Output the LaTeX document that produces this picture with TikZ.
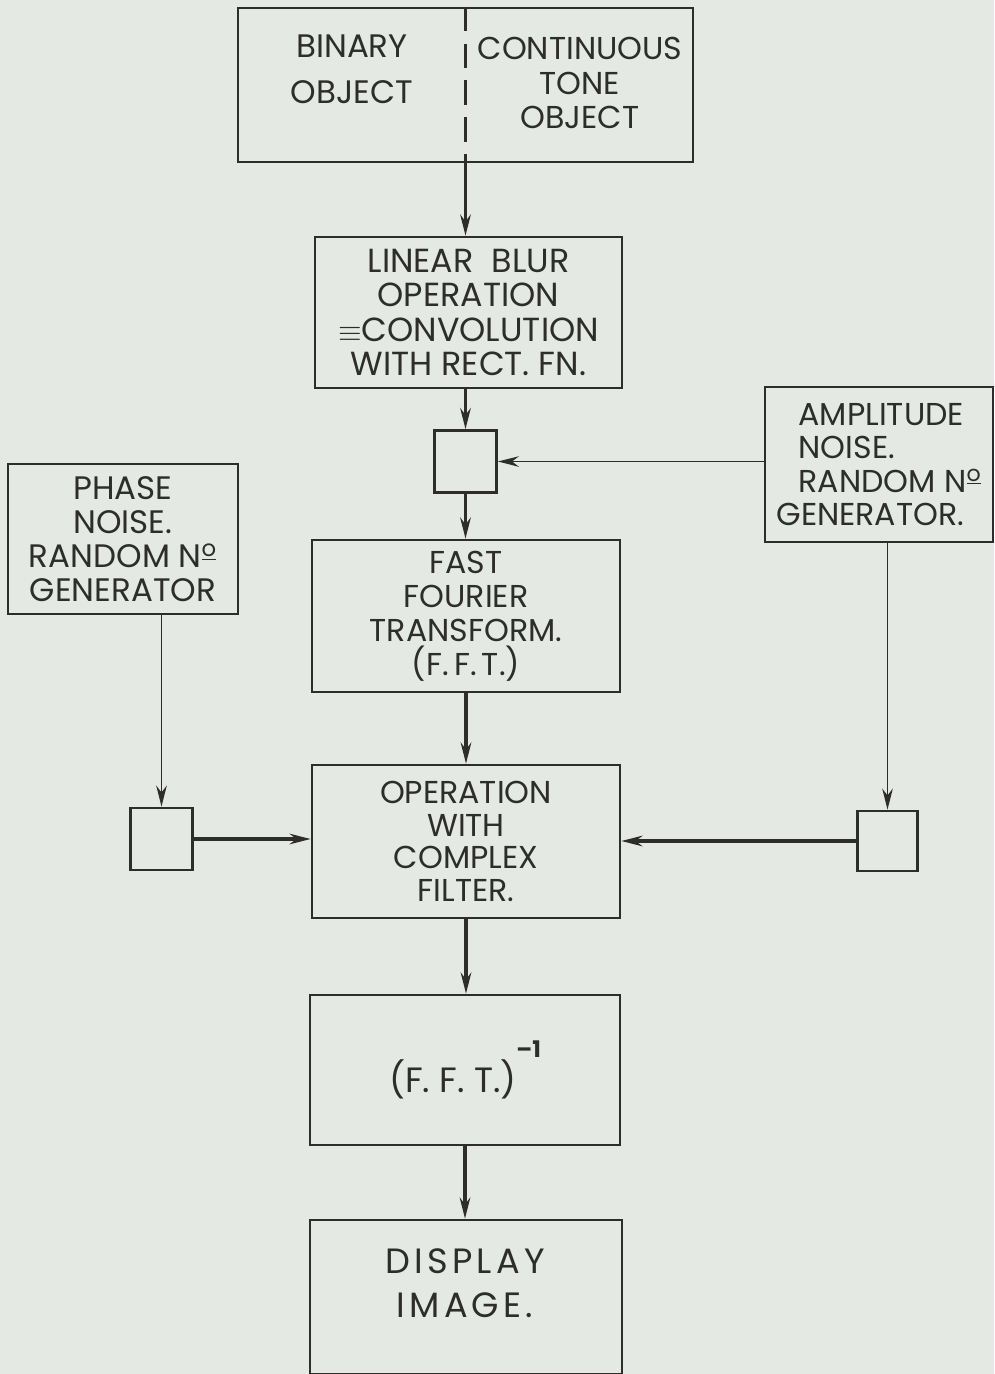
\documentclass[tikz,border=0pt]{standalone}
\usepackage{fontspec}
\setmainfont{Poppins}
\usetikzlibrary{arrows.meta}
\definecolor{paper}{RGB}{228,233,227}
\definecolor{ink}{RGB}{45,45,42}
\newcommand{\fs}[2]{\fontsize{#1}{#2}\selectfont}
\begin{document}
\begin{tikzpicture}[
  every node/.style={font=\fs{18}{19}, text=ink, align=center},
  block/.style={draw=ink, line width=1.5pt, inner sep=0pt},
  mixbox/.style={draw=ink, line width=1.5pt, minimum size=1.24cm, inner sep=0pt},
  flow/.style={draw=ink, line width=1.8pt, -{Stealth[length=12pt, width=6pt]}},
  feed/.style={draw=ink, line width=0.9pt, -{Stealth[length=12pt, width=6pt]}}]
  \fill[paper] (0,0) rectangle (19.88,-27.48);
  \useasboundingbox (0,0) rectangle (19.88,-27.48);
  \node[block, minimum width=9.1cm, minimum height=3.08cm] (object) at (9.31,-1.70) {};
  \node[font=\fs{18.5}{26}] (binary) at (7.04,-1.38) {BINARY\\OBJECT};
  \node[font=\fs{18}{19.5}] (tone) at (11.6,-1.66) {CONTINUOUS\\TONE\\OBJECT};
  \draw[ink, line width=1.2pt, dash pattern=on 14pt off 7pt] (object.north) -- (object.south);
  \node[block, minimum width=6.14cm, minimum height=3.02cm, font=\fs{19}{19.6}] (blur) at (9.37,-6.25)
    {LINEAR\ \ BLUR\\OPERATION\\$\equiv$CONVOLUTION\\WITH RECT. FN.};
  \node[mixbox] (mixa) at (9.31,-9.23) {};
  \node[block, minimum width=6.16cm, minimum height=3.04cm, font=\fs{18}{19.3}] (fft) at (9.32,-12.32)
    {FAST\\FOURIER\\TRANSFORM.\\(F.\,F.\,T.)};
  \node[block, minimum width=6.16cm, minimum height=3.06cm, font=\fs{18}{18.6}] (filter) at (9.32,-16.83)
    {OPERATION\\WITH\\COMPLEX\\FILTER.};
  \node[block, minimum width=6.2cm, minimum height=3.0cm, font=\fs{20}{20}] (ifft) at (9.30,-21.40)
    {(F.\ F.\ T.)\raisebox{1.0em}{\fs{13}{13}\bfseries --1}};
  \node[block, minimum width=6.24cm, minimum height=3.08cm] (display) at (9.32,-25.94) {};
  \node[font=\fs{20}{25}\addfontfeature{LetterSpace=12}] (displaytext) at (9.3,-25.66)
    {DISPLAY\\IMAGE.};
  \node[block, minimum width=4.6cm, minimum height=3.0cm, font=\fs{18.5}{19.4}] (phase) at (2.46,-10.78)
    {PHASE\\NOISE.\\RANDOM N\textsuperscript{\underline{o}}\\GENERATOR};
  \node[mixbox] (mixb) at (3.23,-16.78) {};
  \node[block, minimum width=4.56cm, minimum height=3.1cm, font=\fs{18}{19}, align=left] (amp) at (17.58,-9.29)
    {\hspace*{.7em}AMPLITUDE\\\hspace*{.7em}NOISE.\\\hspace*{.7em}RANDOM N\textsuperscript{\underline{o}}\\GENERATOR.};
  \node[mixbox, minimum size=1.2cm] (mixc) at (17.75,-16.82) {};
  \draw[flow] (object.south) -- (object.south |- blur.north);
  \draw[flow] (mixa.north |- blur.south) -- (mixa.north);
  \draw[flow] (mixa.south) -- (mixa.south |- fft.north);
  \draw[flow] (fft.south) -- (filter.north);
  \draw[flow] (filter.south) -- (filter.south |- ifft.north);
  \draw[flow] (ifft.south) -- (ifft.south |- display.north);
  \draw[feed] (amp.west |- mixa.east) -- (mixa.east);
  \draw[feed] (mixb.north |- phase.south) -- (mixb.north);
  \draw[feed] (mixc.north |- amp.south) -- (mixc.north);
  \draw[flow] (mixb.east) -- (mixb.east -| filter.west);
  \draw[flow] (mixc.west) -- (mixc.west -| filter.east);
\end{tikzpicture}
\end{document}
